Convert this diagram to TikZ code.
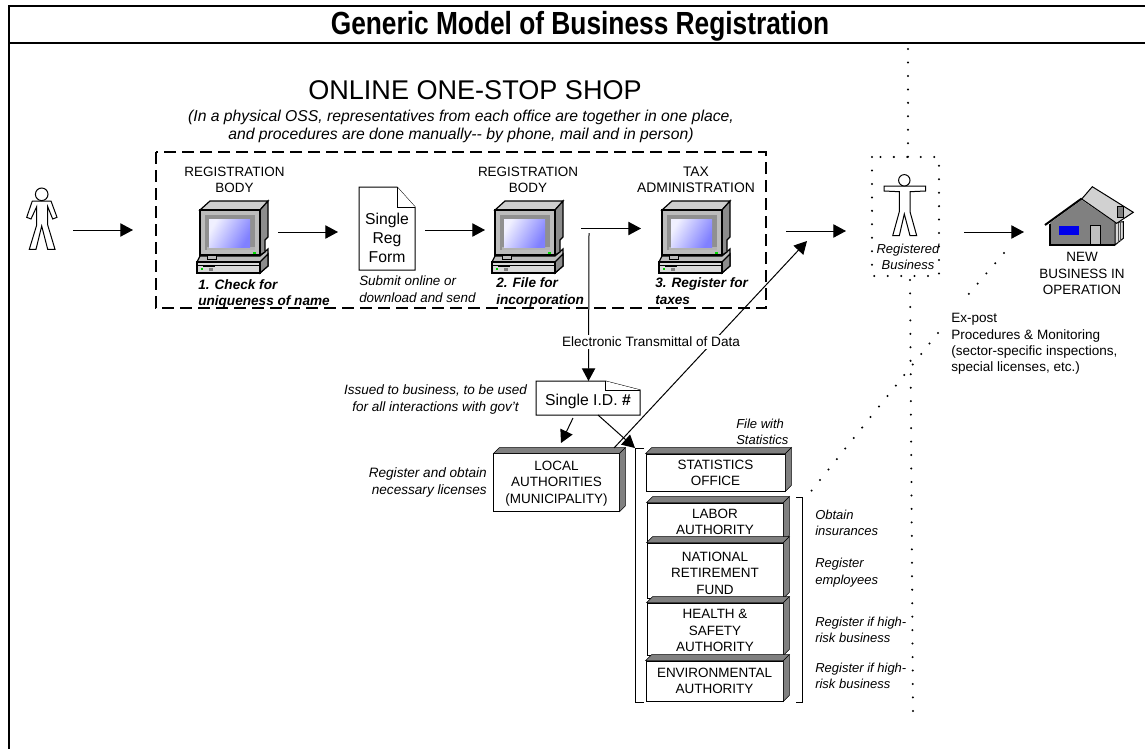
\documentclass[tikz,border=0pt]{standalone}
\usepackage{fontspec}
\setmainfont{Liberation Sans}
\usetikzlibrary{arrows.meta,shapes.geometric}
\definecolor{scrhi}{HTML}{F0F0FF}
\definecolor{scrlo}{HTML}{8080FF}
\definecolor{pcfront}{HTML}{BCBCBC}
\definecolor{pctop}{HTML}{CFCFCF}
\definecolor{pcside}{HTML}{8C8C8C}
\definecolor{pcbezel}{HTML}{909090}
\definecolor{boxdark}{HTML}{808080}
\tikzset{
  lbl/.style={inner sep=0pt,align=center,font=\fontsize{10.1}{12.4}\selectfont},
  lbll/.style={lbl,align=left,anchor=west},
  ital/.style={inner sep=0pt,align=center,font=\fontsize{9.75}{12.4}\selectfont\itshape},
  itall/.style={ital,align=left,anchor=west},
  italr/.style={ital,align=right,anchor=east},
  step lbl/.style={inner sep=0pt,align=left,anchor=west,font=\fontsize{10.2}{12.6}\selectfont\bfseries\itshape},
  box3d/.style={draw=black,line width=0.6pt,fill=white,rectangle,inner sep=0pt,align=center,font=\fontsize{10.1}{12.2}\selectfont},
  face/.style={draw=black,line width=0.4pt,fill=boxdark},
  arrowline/.style={draw=black,line width=0.75pt,-{Triangle[length=9.5pt,width=10pt]}},
  thinline/.style={draw=black,line width=0.75pt},
  dots/.style={line width=1.7pt,line cap=round,dash pattern=on 0pt off 10.1pt},
  docshape/.style={draw=black,line width=0.75pt,fill=white},
  computer/.pic={
    % base
    \fill[pcfront,draw=black,line width=0.9pt] (0,62) -- (3,56) -- (63,56) -- (71,49) -- (71,66) -- (63,73) -- (0,73) -- cycle;
    \draw[black,line width=0.9pt,fill=pcside] (63,62) -- (71,54) -- (71,66) -- (63,73) -- cycle;
    \draw[black,line width=0.8pt,fill=white!85!black] (0,62) rectangle (63,73);
    \draw[black,line width=0.6pt] (1,65) -- (63,65);
    \fill[black] (6,64.6) rectangle (18,66.6);
    \fill[green!80!black] (4,68) rectangle (6,69.5);
    \fill[gray] (12,68) rectangle (16,71);
    % neck
    \draw[black,line width=0.6pt,fill=pcfront] (10,55) rectangle (19,59);
    % monitor
    \draw[black,line width=0.9pt,fill=pctop] (3,10) -- (13,1) -- (71,1) -- (63,10) -- cycle;
    \draw[black,line width=0.9pt,fill=pcside] (63,10) -- (71,1) -- (71,37) -- (68,40) -- (68,52) -- (63,55) -- cycle;
    \draw[black,line width=0.9pt,fill=pcfront] (3,10) rectangle (63,55);
    \fill[pcbezel] (8,15) rectangle (58,50);
    \fill[pcfront!115!white] (10,47) rectangle (58,50);
    \shade[left color=scrhi,right color=scrlo,shading angle=60] (12,19) rectangle (53,47);
    \fill[green!85!black] (56,52) rectangle (59,54);
  },
  person/.pic={
    \draw[black,line width=0.75pt,fill=white] (32.3,61) -- (26.7,77.3) -- (31,79) -- (36.7,66.7) -- (36.7,85) -- (29.3,109.3) -- (36,109.3) -- (41.7,86) -- (47.7,109.3) -- (55,109.3) -- (47.7,85) -- (47.7,66.7) -- (52.7,79) -- (57,77.3) -- (51,61) -- cycle;
    \draw[black,line width=0.75pt,fill=white] (41.7,54.3) circle (6.3);
  },
  personb/.pic={
    \draw[black,line width=0.75pt,fill=white] (104,46) -- (104,51) -- (119.3,51.7) -- (119.3,71.7) -- (112.7,95.7) -- (119.3,95.7) -- (124.3,74) -- (130,95.7) -- (136.7,95.7) -- (130,71.7) -- (130,51.7) -- (145.7,51) -- (145.7,46) -- cycle;
    \draw[black,line width=0.75pt,fill=white] (124.3,40.3) circle (5.7);
  },
  house/.pic={
    \fill[gray] (15,43) -- (46.7,20) -- (80,42.7) -- (80,65) -- (15,65) -- cycle;
    \draw[black,line width=1.4pt] (15,44) -- (15,65) -- (80,65);
    \fill[white!85!black,draw=black,line width=0.75pt] (80,42.7) -- (88.3,41.7) -- (88.3,58.3) -- (80,65) -- cycle;
    \draw[black!70,line width=0.7pt] (83,42.7) -- (83,62.5) (85.7,42.7) -- (85.7,60.5);
    \fill[white!82!black,draw=black,line width=0.75pt] (46.7,19) -- (57.3,6.7) -- (98.3,32.3) -- (81.7,43.3) -- cycle;
    \draw[black,line width=1.5pt] (10,45) -- (46.7,18.5);
    \draw[black,line width=0.6pt,fill=gray] (82.7,26.7) rectangle (88.3,37.3);
    \draw[gray,line width=0.9pt,fill={rgb,255:red,0;green,0;blue,235}] (23.3,45) rectangle (45,55.7);
    \draw[black,line width=0.75pt,fill=white!75!black] (55,45.7) rectangle (65,64);
  }
}
\newcommand{\facesthreed}[2]{%
  \path[face] (#1.north west) -- ++(#2,#2) -- ([shift={(#2,#2)}]#1.north east) -- (#1.north east) -- cycle;
  \path[face] (#1.north east) -- ++(#2,#2) -- ([shift={(#2,#2)}]#1.south east) -- (#1.south east) -- cycle;
}
\begin{document}
\begin{tikzpicture}[x=0.75pt,y=-0.75pt]
\useasboundingbox (0,0) rectangle (1145,749);
\fill[white] (0,0) rectangle (1145,749);

% frame
\coordinate (frameTL) at (9,6);
\coordinate (frameTR) at (1145,6);
\coordinate (frameBL) at (9,749);
\coordinate (ruleL) at (9,43.5);
\coordinate (ruleR) at (1145,43.5);
\draw[black,line width=1.5pt] (frameTR) -- (frameTL) -- (frameBL);
\draw[black,line width=1.5pt] (ruleL) -- (ruleR);
\node[inner sep=0pt] (title) at (580,26) {\scalebox{0.822}[1]{\fontsize{24}{28}\selectfont\bfseries Generic Model of Business Registration}};

\node[inner sep=0pt,font=\fontsize{20.3}{24}\selectfont] (oss) at (475,90) {ONLINE ONE-STOP SHOP};
\node[ital,font=\fontsize{11.8}{13.5}\selectfont\itshape] (ossnote) at (461,126) {(In a physical OSS, representatives from each office are together in one place,\\and procedures are done manually-{}- by phone, mail and in person)};

% dotted separators
\coordinate (dv1) at (908,49);
\coordinate (dv2) at (908,157);
\coordinate (dv3) at (910,280);
\coordinate (dv4) at (913,716);
\draw[dots] (dv1) -- (dv2);
\draw[dots] (dv3) -- (dv4);
\coordinate (bxa) at (872,157);
\coordinate (bxb) at (939,276);
\draw[dots] (bxa) rectangle (bxb);
\coordinate (dd1) at (1004,253);
\coordinate (dd2) at (967,296);
\draw[dots] (dd1) -- (dd2);
\coordinate (dd3) at (938,333);
\coordinate (dd4) at (808,495);
\draw[dots] (dd3) -- (dd4);

% dashed OSS box
\coordinate (ossA) at (156,152);
\coordinate (ossB) at (766,308);
\draw[black,line width=1.1pt,dash pattern=on 9pt off 4.5pt] (ossA) rectangle (ossB);

% people
\pic at (0,140) {person};
\pic at (780,140) {personb};

% computers
\pic at (197,200) {computer};
\pic at (492,200) {computer};
\pic at (659,200) {computer};

\node[lbl] (rb1) at (234.5,180) {REGISTRATION\\BODY};
\node[lbl] (rb2) at (528,180) {REGISTRATION\\BODY};
\node[lbl,font=\fontsize{10.4}{12.4}\selectfont] (tax) at (696,180) {TAX\\ADMINISTRATION};
\node[step lbl] (s1) at (198,294) {1. Check for\\uniqueness of name};
\node[step lbl] (s2) at (496,292.5) {2. File for\\incorporation};
\node[step lbl] (s3) at (655,291) {3. Register for\\taxes};

% form
\coordinate (fA) at (359,187);
\coordinate (fB) at (397,187);
\coordinate (fC) at (415,207);
\coordinate (fD) at (415,270);
\coordinate (fE) at (359,270);
\coordinate (fF) at (397,207);
\draw[docshape] (fA) -- (fB) -- (fC) -- (fD) -- (fE) -- cycle;
\draw[docshape] (fB) -- (fF) -- (fC);
\node[inner sep=0pt,align=center,font=\fontsize{11.8}{14.2}\selectfont] (form) at (387,238) {Single\\Reg\\Form};
\node[itall,font=\fontsize{10.05}{12.6}\selectfont\itshape] (submit) at (359,289.5) {Submit online or\\download and send};

% house
\pic at (1035,180) {house};
\node[lbl] (newbiz) at (1082,273.5) {NEW\\BUSINESS IN\\OPERATION};
\node[ital] (regbiz) at (908,257) {Registered\\Business};
\node[lbll,font=\fontsize{10.15}{12.2}\selectfont] (expost) at (951,344) {Ex-post\\Procedures \& Monitoring\\(sector-specific inspections,\\special licenses, etc.)};

% connectors
\coordinate (a1) at (73,230); \coordinate (a2) at (133,230);
\coordinate (b1) at (278,232); \coordinate (b2) at (338,232);
\coordinate (c1) at (425,230); \coordinate (c2) at (485,230);
\coordinate (d1) at (581,228.5); \coordinate (d2) at (641,228.5);
\coordinate (e1) at (786,231); \coordinate (e2) at (846,231);
\coordinate (f1) at (964,232); \coordinate (f2) at (1024,232);
\draw[arrowline] (a1) -- (a2);
\draw[arrowline] (b1) -- (b2);
\draw[arrowline] (c1) -- (c2);
\draw[arrowline] (d1) -- (d2);
\draw[arrowline] (e1) -- (e2);
\draw[arrowline] (f1) -- (f2);

% Local authorities and ID doc
\node[box3d,minimum width=94pt,minimum height=43pt] (local) at (556.5,482.5) {\rule{0pt}{8.7pt}LOCAL\\AUTHORITIES\\(MUNICIPALITY)};
\facesthreed{local}{4.3pt}

\coordinate (vtop) at (589,233);
\coordinate (idT) at (588.5,381);
\coordinate (diagTip) at (807,241);
\coordinate (diagEnd) at (614,448);
\draw[arrowline] (vtop) -- (idT);
\draw[arrowline] (diagEnd) -- (diagTip);
\node[fill=white,inner sep=1.5pt,font=\fontsize{10.2}{12}\selectfont] (etd) at (651,342) {Electronic Transmittal of Data};

\coordinate (iA) at (536,381);
\coordinate (iB) at (605,381);
\coordinate (iC) at (640,390);
\coordinate (iD) at (640,415);
\coordinate (iE) at (536,415);
\coordinate (iF) at (605,390);
\draw[docshape] (iA) -- (iB) -- (iC) -- (iD) -- (iE) -- cycle;
\draw[docshape] (iB) -- (iF) -- (iC);
\node[inner sep=0pt,font=\fontsize{11.8}{14}\selectfont] (sid) at (588,401.5) {Single I.D. \textbf{\#}};
\node[ital,font=\fontsize{10.15}{12.4}\selectfont\itshape] (issued) at (435.5,399.5) {Issued to business, to be used\\for all interactions with gov't};

\coordinate (g1) at (573,418); \coordinate (g2) at (561,443);
\coordinate (h1) at (598,415); \coordinate (h2) at (635,448);
\draw[arrowline] (g1) -- (g2);
\draw[arrowline] (h1) -- (h2);

\node[italr,font=\fontsize{10.2}{12.4}\selectfont\itshape] (regobt) at (487,482.5) {Register and obtain\\necessary licenses};

% agency boxes
\node[box3d,minimum width=104.2pt,minimum height=27.7pt] (stats) at (715.5,472.5) {STATISTICS\\OFFICE};
\facesthreed{stats}{4.5pt}
\node[box3d,minimum width=102pt,minimum height=28.5pt] (labor) at (715,522) {LABOR\\AUTHORITY};
\facesthreed{labor}{4.5pt}
\node[box3d,minimum width=102pt,minimum height=41.2pt] (nrf) at (715,570.5) {\rule{0pt}{11pt}NATIONAL\\RETIREMENT\\FUND};
\facesthreed{nrf}{4.5pt}
\node[box3d,minimum width=102pt,minimum height=39pt] (health) at (715,629) {\rule{0pt}{9.4pt}HEALTH \&\\SAFETY\\AUTHORITY};
\facesthreed{health}{4.5pt}
\node[box3d,minimum width=102.7pt,minimum height=30pt] (env) at (714.5,681) {ENVIRONMENTAL\\AUTHORITY};
\facesthreed{env}{4.5pt}

% brackets
\coordinate (lb1) at (644,448); \coordinate (lb2) at (635,448);
\coordinate (lb3) at (635,702); \coordinate (lb4) at (644,702);
\draw[thinline] (lb1) -- (lb2) -- (lb3) -- (lb4);
\coordinate (rb1c) at (796,497); \coordinate (rb2c) at (802,497);
\coordinate (rb3c) at (802,702); \coordinate (rb4c) at (796,702);
\draw[thinline] (rb1c) -- (rb2c) -- (rb3c) -- (rb4c);

% side notes
\node[itall] (filew) at (736,432) {File with\\Statistics};
\node[itall] (obt) at (815,523) {Obtain\\insurances};
\node[itall] (regemp) at (815,572.5) {Register\\employees};
\node[itall] (hr1) at (815,630) {Register if high-\\risk business};
\node[itall] (hr2) at (815,676) {Register if high-\\risk business};
\end{tikzpicture}
\end{document}
